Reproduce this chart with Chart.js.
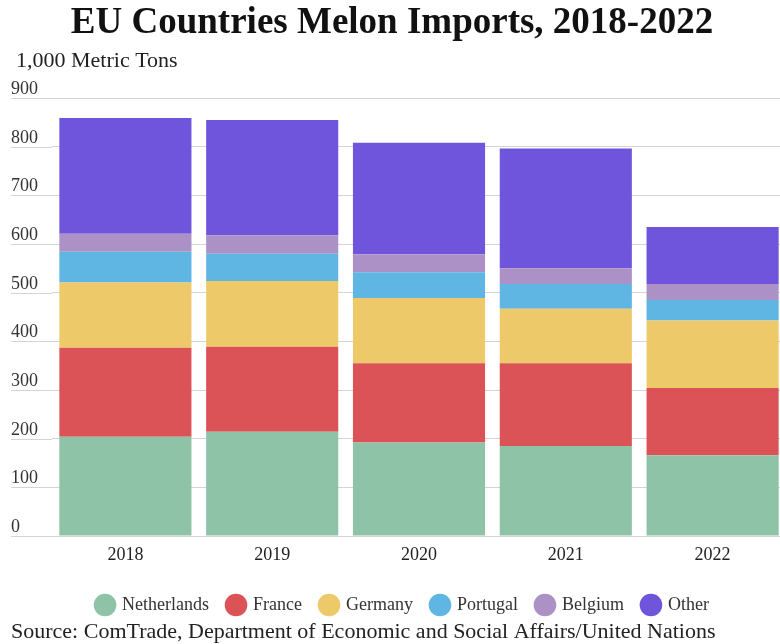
<!DOCTYPE html>
<html>
<head>
<meta charset="utf-8">
<script src="https://cdn.jsdelivr.net/npm/chart.js@4/dist/chart.umd.min.js"></script>
<style>
  html, body { margin: 0; padding: 0; background: #fff; overflow: hidden; }
  #wrap { width: 786px; height: 644px; }
</style>
</head>
<body>
<div id="wrap"><canvas id="melonChart" width="786" height="644"></canvas></div>
<script>
// 수입량 (1,000 톤)
const years = ["2018", "2019", "2020", "2021", "2022"];
const netherlands = [204, 214, 192, 185, 166];
const france = [183, 175, 163, 170, 138];
const germany = [134, 135, 134, 112, 139];
const portugal = [63, 56, 53, 51, 42];
const belgium = [37, 38, 37, 32, 33];
const other = [238, 237, 229, 246, 117];
const yTicks = [0, 100, 200, 300, 400, 500, 600, 700, 800, 900];

const serif = "'Liberation Serif', 'Times New Roman', serif";

function series(label, data, color) {
  return { label: label, data: data, backgroundColor: color, borderWidth: 0 };
}

// 제목, 단위, 출처, y축 눈금 글자 (격자선 위쪽 왼편)
const extraText = {
  id: "extraText",
  afterDraw: function (c) {
    const ctx = c.ctx;
    const y = c.scales.y;
    const area = c.chartArea;
    ctx.save();
    ctx.strokeStyle = "#d4d4d4";
    ctx.lineWidth = 1;
    ctx.fillStyle = "#333";
    ctx.font = "18px " + serif;
    ctx.textAlign = "left";
    ctx.textBaseline = "alphabetic";
    yTicks.forEach(function (v) {
      const py = Math.round(y.getPixelForValue(v)) + 0.5;
      ctx.beginPath();
      ctx.moveTo(11, py);
      ctx.lineTo(area.left, py);
      ctx.stroke();
      ctx.fillText(String(v), 11, py - 5);
    });

    ctx.fillStyle = "#222";
    ctx.textBaseline = "middle";
    ctx.font = "22px " + serif;
    ctx.fillText("1,000 Metric Tons", 16, 61);
    ctx.fillText("Source: ComTrade, Department of Economic and Social Affairs/United Nations", 11, 632);

    ctx.fillStyle = "#111";
    ctx.textAlign = "center";
    ctx.font = "bold 37px " + serif;
    ctx.fillText("EU Countries Melon Imports, 2018-2022", 392, 23);
    ctx.restore();
  },
};

new Chart(document.getElementById("melonChart"), {
  type: "bar",
  data: {
    labels: years,
    datasets: [
      series("Netherlands", netherlands, "#8fc3a7"),
      series("France", france, "#dc5357"),
      series("Germany", germany, "#eec96a"),
      series("Portugal", portugal, "#5fb6e3"),
      series("Belgium", belgium, "#ab91c5"),
      series("Other", other, "#6f55db"),
    ],
  },
  options: {
    responsive: false,
    animation: false,
    datasets: { bar: { categoryPercentage: 1, barPercentage: 0.9 } },
    layout: { padding: { left: 20, right: 0, top: 98, bottom: 20 } },
    scales: {
      x: {
        stacked: true,
        grid: { display: false },
        border: { display: false },
        ticks: { color: "#222", font: { family: serif, size: 18 }, padding: 0 },
        afterFit: function (scale) { scale.height = 41; },
      },
      y: {
        stacked: true,
        min: 0,
        max: 900,
        ticks: { display: false, stepSize: 100 },
        grid: { color: "#d4d4d4", drawTicks: false },
        border: { display: false },
        afterFit: function (scale) { scale.width = 32; },
      },
    },
    plugins: {
      title: { display: false },
      legend: {
        position: "bottom",
        labels: {
          usePointStyle: true,
          pointStyle: "circle",
          boxWidth: 16,
          boxHeight: 16,
          padding: 19,
          color: "#333",
          font: { family: serif, size: 18 },
        },
      },
      tooltip: { enabled: false },
    },
  },
  plugins: [extraText],
});
</script>
</body>
</html>
